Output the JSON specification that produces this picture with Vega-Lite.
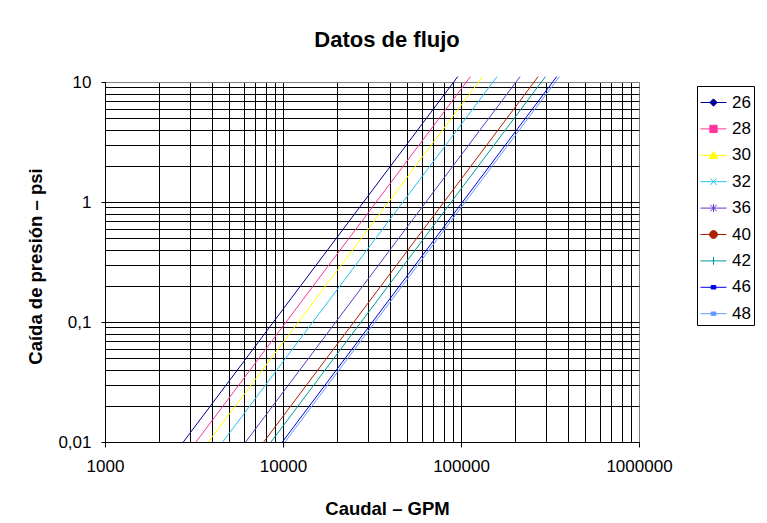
{
  "$schema": "https://vega.github.io/schema/vega-lite/v6.json",
  "width": 534,
  "height": 360,
  "autosize": {"type": "none"},
  "padding": {"left": 105, "top": 82, "right": 128, "bottom": 81},
  "background": "white",
  "config": {
    "view": {"stroke": "#808080", "strokeWidth": 1},
    "font": "Liberation Sans"
  },
  "title": {
    "text": "Datos de flujo",
    "font": "Liberation Sans",
    "fontSize": 22,
    "fontWeight": "bold",
    "color": "black",
    "anchor": "middle",
    "frame": "group",
    "dx": 15,
    "baseline": "alphabetic",
    "offset": 4
  },
  "data": {
    "values": [
      {"size": "26", "gpm": 2754, "psi": 0.01},
      {"size": "26", "gpm": 95920, "psi": 11.1},
      {"size": "28", "gpm": 3245, "psi": 0.01},
      {"size": "28", "gpm": 113020, "psi": 11.1},
      {"size": "30", "gpm": 3805, "psi": 0.01},
      {"size": "30", "gpm": 132530, "psi": 11.1},
      {"size": "32", "gpm": 4584, "psi": 0.01},
      {"size": "32", "gpm": 159660, "psi": 11.1},
      {"size": "36", "gpm": 6170, "psi": 0.01},
      {"size": "36", "gpm": 214900, "psi": 11.1},
      {"size": "40", "gpm": 7793, "psi": 0.01},
      {"size": "40", "gpm": 271430, "psi": 11.1},
      {"size": "42", "gpm": 8564, "psi": 0.01},
      {"size": "42", "gpm": 298280, "psi": 11.1},
      {"size": "46", "gpm": 9911, "psi": 0.01},
      {"size": "46", "gpm": 345200, "psi": 11.1},
      {"size": "48", "gpm": 10261, "psi": 0.01},
      {"size": "48", "gpm": 357390, "psi": 11.1}
    ]
  },
  "mark": {"type": "line", "clip": false, "strokeWidth": 1},
  "encoding": {
    "x": {
      "field": "gpm",
      "type": "quantitative",
      "scale": {"type": "log", "domain": [1000, 1000000], "nice": false},
      "axis": {
        "values": [1000, 2000, 3000, 4000, 5000, 6000, 7000, 8000, 9000, 10000, 20000, 30000, 40000, 50000, 60000, 70000, 80000, 90000, 100000, 200000, 300000, 400000, 500000, 600000, 700000, 800000, 900000, 1000000],
        "grid": true,
        "gridColor": {"condition": {"test": "datum.value == 1000000", "value": "#808080"}, "value": "black"},
        "gridWidth": 1,
        "gridOpacity": 1,
        "tickOpacity": {"condition": {"test": "indexof([1000,10000,100000,1000000], datum.value) >= 0", "value": 1}, "value": 0},
        "tickSize": 5,
        "tickColor": "black",
        "domainColor": "black",
        "labelExpr": "indexof([1000,10000,100000,1000000], datum.value) >= 0 ? format(datum.value, 'd') : ''",
        "labelFont": "Liberation Sans",
        "labelFontSize": 17,
        "labelColor": "black",
        "labelPadding": 11,
        "labelOverlap": false,
        "labelFlush": false,
        "title": "Caudal – GPM",
        "titleFont": "Liberation Sans",
        "titleFontWeight": "bold",
        "titleFontSize": 18.5,
        "titleColor": "black",
        "titleX": 282,
        "titleY": 66,
        "titleBaseline": "middle",
        "titleAlign": "center"
      }
    },
    "y": {
      "field": "psi",
      "type": "quantitative",
      "scale": {"type": "log", "domain": [0.01, 10], "nice": false},
      "axis": {
        "values": [0.01, 0.02, 0.03, 0.04, 0.05, 0.06, 0.07, 0.08, 0.09, 0.1, 0.2, 0.3, 0.4, 0.5, 0.6, 0.7, 0.8, 0.9, 1, 2, 3, 4, 5, 6, 7, 8, 9, 10],
        "grid": true,
        "gridColor": {"condition": {"test": "datum.value == 10", "value": "#808080"}, "value": "black"},
        "gridWidth": 1,
        "gridOpacity": 1,
        "tickOpacity": {"condition": {"test": "indexof([0.01,0.1,1,10], datum.value) >= 0", "value": 1}, "value": 0},
        "tickSize": 4,
        "tickColor": "black",
        "domainColor": "black",
        "labelExpr": "datum.value == 10 ? '10' : datum.value == 1 ? '1' : datum.value == 0.1 ? '0,1' : datum.value == 0.01 ? '0,01' : ''",
        "labelFont": "Liberation Sans",
        "labelFontSize": 17,
        "labelColor": "black",
        "labelPadding": 10,
        "labelOverlap": false,
        "labelFlush": false,
        "title": "Caída de presión – psi",
        "titleFont": "Liberation Sans",
        "titleFontWeight": "bold",
        "titleFontSize": 18.5,
        "titleColor": "black",
        "titleX": -70,
        "titleY": 184,
        "titleBaseline": "middle",
        "titleAlign": "center",
        "titleAngle": 270
      }
    },
    "color": {
      "field": "size",
      "type": "nominal",
      "scale": {
        "domain": ["26", "28", "30", "32", "36", "40", "42", "46", "48"],
        "range": ["#000099", "#FF3399", "#FFFF00", "#22C4F0", "#6633CC", "#AA2200", "#009999", "#0000EE", "#6699FF"]
      },
      "legend": {
        "orient": "none",
        "legendX": 592,
        "legendY": 4,
        "title": null,
        "padding": 3,
        "strokeColor": "black",
        "fillColor": "white",
        "symbolSize": 676,
        "symbolStrokeWidth": 1,
        "rowPadding": 4.4,
        "labelOffset": 5,
        "labelFont": "Liberation Sans",
        "labelFontSize": 17,
        "labelColor": "black",
        "encode": {
          "symbols": {
            "update": {
              "shape": {"signal": "datum.value == '26' ? 'M-1,0H1M0,-0.28L0.28,0L0,0.28L-0.28,0Z' : datum.value == '28' ? 'M-1,0H1M-0.28,-0.28H0.28V0.28H-0.28Z' : datum.value == '30' ? 'M-1,0H1M0,-0.3L0.33,0.24H-0.33Z' : datum.value == '32' ? 'M-1,0H1M-0.25,-0.25L0.25,0.25M-0.25,0.25L0.25,-0.25' : datum.value == '36' ? 'M-1,0H1M-0.25,-0.25L0.25,0.25M-0.25,0.25L0.25,-0.25M0,-0.3V0.3' : datum.value == '40' ? 'M-1,0H1M0.3,0A0.3,0.3,0,1,1,-0.3,0A0.3,0.3,0,1,1,0.3,0Z' : datum.value == '42' ? 'M-1,0H1M0,-0.3V0.3' : 'M-1,0H1M-0.18,-0.13H0.18V0.13H-0.18Z'"},
              "fill": {"signal": "scale('color', datum.value)"},
              "fillOpacity": {"value": 1},
              "strokeWidth": {"value": 1}
            }
          }
        }
      }
    }
  }
}
